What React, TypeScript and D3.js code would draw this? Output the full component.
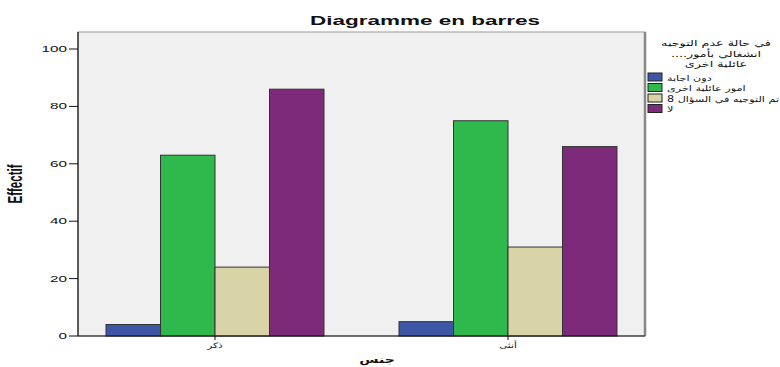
import React from "react";
import * as d3 from "d3";

const categories = ["ذكر", "أنثى"];
const series = ["دون اجابة", "امور عائلية اخرى", "تم التوجيه في السؤال 8", "لا"];
const colors = ["#3d56a6", "#2fb84b", "#d9d4a8", "#7d2a7b"];
const values = [
  [4, 63, 24, 86],
  [5, 75, 31, 66],
];
const yTicks = [0, 20, 40, 60, 80, 100];
const legendTitle = ["في حالة عدم التوجيه", "....انشغالي بأمور", "عائلية اخرى"];

const W = 780;
const H = 367;
const SX = 1.8; // horizontal stretch of text in original

const plot = { left: 78, right: 645, top: 32, bottom: 336 };

export default function App() {
  const y = d3.scaleLinear().domain([0, 100]).range([plot.bottom, 49]);
  const x0 = d3.scaleBand().domain(categories).range([68.5, 654.5]).padding(0);
  const x1 = d3.scaleBand().domain(series).range([0.128, 0.872].map((f) => f * x0.bandwidth())).padding(0);

  const T = (x: number, yy: number, content: string, opts: any = {}) => (
    <text
      transform={`translate(${x},${yy}) scale(${opts.sx ?? SX},1)`}
      textAnchor={opts.anchor ?? "middle"}
      fontSize={opts.size ?? 8.5}
      fontWeight={opts.weight ?? "normal"}
      fontFamily={opts.family ?? "'Liberation Sans', Arial, sans-serif"}
      fill={opts.fill ?? "#111"}
    >
      {content}
    </text>
  );

  return (
    <svg width={W} height={H} style={{ position: "absolute", left: 0, top: 0, background: "#fff" }}>
      <rect x={plot.left} y={plot.top} width={plot.right - plot.left} height={plot.bottom - plot.top} fill="#f0f0f0" stroke="#9a9a9a" strokeWidth={1} />
      <line x1={plot.right} x2={plot.right} y1={plot.top} y2={plot.bottom} stroke="#888" strokeWidth={2.5} />
      {values.map((row, ci) =>
        row.map((v, si) => (
          <rect
            key={`${ci}-${si}`}
            x={(x0(categories[ci]) ?? 0) + (x1(series[si]) ?? 0)}
            y={y(v)}
            width={x1.bandwidth()}
            height={y(0) - y(v)}
            fill={colors[si]}
            stroke="#333"
            strokeWidth={1}
          />
        ))
      )}
      <line x1={plot.left} x2={plot.left} y1={plot.top} y2={plot.bottom} stroke="#111" strokeWidth={1.2} />
      <line x1={plot.left} x2={plot.right} y1={plot.bottom} y2={plot.bottom} stroke="#111" strokeWidth={1.2} />
      {yTicks.map((t) => (
        <g key={t}>
          <line x1={plot.left - 9} x2={plot.left} y1={y(t)} y2={y(t)} stroke="#111" />
          {T(plot.left - 11, y(t) + 3, String(t), { anchor: "end", size: 8.5 })}
        </g>
      ))}
      {categories.map((c) => {
        const cx = (x0(c) ?? 0) + x0.bandwidth() / 2;
        return (
          <g key={c}>
            <line x1={cx} x2={cx} y1={plot.bottom} y2={plot.bottom + 4} stroke="#111" />
            {T(cx, plot.bottom + 12, c, { size: 7.5, family: "'DejaVu Sans', sans-serif", sx: 1.4 })}
          </g>
        );
      })}
      {T(425, 25, "Diagramme en barres", { size: 12.5, weight: "bold" })}
      <text
        transform={`translate(22,184) scale(${SX},1) rotate(-90)`}
        textAnchor="middle"
        fontSize={11.5}
        fontWeight="bold"
        fontFamily="'Liberation Sans', Arial, sans-serif"
        fill="#111"
      >
        Effectif
      </text>
      {T(377, 363, "جنس", { size: 10, weight: "bold", family: "'DejaVu Sans', sans-serif", sx: 1.4 })}
      {legendTitle.map((l, i) =>
        <g key={l}>{T(716, 46 + i * 10.5, l, { size: 8.5, family: "'DejaVu Sans', sans-serif", sx: 1.5 })}</g>
      )}
      {series.map((s, i) => (
        <g key={s}>
          <rect x={648} y={73 + i * 10.5} width={14} height={8} fill={colors[i]} stroke="#222" strokeWidth={1} />
          {T(667, 80.5 + i * 10.5, s, { anchor: "start", size: 8, family: "'DejaVu Sans', sans-serif", sx: 1.4 })}
        </g>
      ))}
    </svg>
  );
}
